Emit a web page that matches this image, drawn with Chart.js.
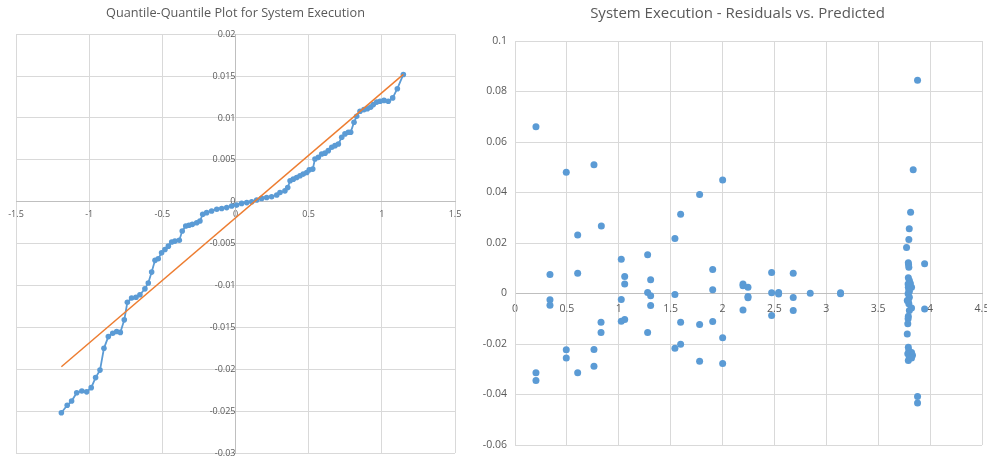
<!DOCTYPE html>
<html>
    <head>
        <meta charset="UTF-8">
        <title>System Execution</title>
        <script src="https://cdn.jsdelivr.net/npm/chart.js@4/dist/chart.umd.min.js"></script>
        <style>
            body { margin: 0; background: #fff; overflow: hidden; }
            #izq { position: absolute; left: 0; top: 0; }
            #der { position: absolute; left: 480px; top: 0; }
        </style>
    </head>
    <body>
        <canvas id="izq" width="470" height="459"></canvas>
        <canvas id="der" width="520" height="459"></canvas>

        <script type="text/javascript">
        // Q-Q plot: theoretical quantile vs observed residual
        var qqTeorico = [-1.19, -1.15, -1.12, -1.085, -1.05, -1.017, -0.986, -0.956, -0.926, -0.899,
            -0.869, -0.839, -0.812, -0.787, -0.76, -0.739, -0.71, -0.68, -0.653, -0.619,
            -0.596, -0.573, -0.55, -0.528, -0.505, -0.482, -0.459, -0.436, -0.414, -0.384,
            -0.364, -0.34, -0.318, -0.295, -0.265, -0.243, -0.224, -0.197, -0.163, -0.128,
            -0.094, -0.06, -0.026, 0.008, 0.042, 0.077, 0.111, 0.145, 0.179, 0.213,
            0.247, 0.282, 0.304, 0.338, 0.357, 0.373, 0.395, 0.418, 0.441, 0.463,
            0.487, 0.504, 0.528, 0.543, 0.566, 0.589, 0.612, 0.634, 0.658, 0.68,
            0.703, 0.726, 0.748, 0.771, 0.787, 0.81, 0.828, 0.851, 0.878, 0.901,
            0.924, 0.942, 0.965, 0.988, 1.015, 1.044, 1.074, 1.106, 1.147];
        var qqObservado = [-0.0252, -0.0243, -0.0238, -0.0228, -0.0226, -0.0227, -0.0222, -0.021, -0.0201, -0.0175,
            -0.0161, -0.0157, -0.0155, -0.0156, -0.0141, -0.012, -0.0115, -0.0114, -0.0111, -0.0104,
            -0.0097, -0.0084, -0.007, -0.0068, -0.0061, -0.0057, -0.0053, -0.0048, -0.0047, -0.0046,
            -0.0035, -0.0029, -0.0028, -0.0027, -0.0025, -0.0023, -0.0015, -0.0013, -0.0011, -0.0009,
            -0.0008, -0.0007, -0.0005, -0.0004, -0.0002, -0.0001, 0, 0.0002, 0.0004, 0.0005,
            0.0006, 0.0008, 0.0011, 0.0013, 0.0017, 0.0025, 0.0027, 0.0029, 0.0031, 0.0033,
            0.0035, 0.0038, 0.0039, 0.0051, 0.0053, 0.0057, 0.0058, 0.0061, 0.0065, 0.0067,
            0.0069, 0.0077, 0.0081, 0.0083, 0.0083, 0.0095, 0.0102, 0.0108, 0.011, 0.0111,
            0.0113, 0.0116, 0.0119, 0.012, 0.0121, 0.012, 0.0124, 0.0135, 0.0152];
        // fitted reference line (end points)
        var lineaX = [-1.19, 1.147];
        var lineaY = [-0.0197, 0.0152];

        // residuals vs predicted
        var predicho = [0.202, 0.202, 0.202, 0.337, 0.337, 0.337, 0.494, 0.494, 0.494, 0.604,
            0.604, 0.604, 0.761, 0.761, 0.761, 0.832, 0.829, 0.829, 1.024, 1.024,
            1.024, 1.057, 1.057, 1.057, 1.278, 1.278, 1.278, 1.307, 1.307, 1.307,
            1.541, 1.541, 1.541, 1.596, 1.596, 1.596, 1.779, 1.779, 1.779, 1.905,
            1.905, 1.905, 2.001, 2.001, 2.001, 2.197, 2.197, 2.197, 2.245, 2.245,
            2.245, 2.473, 2.473, 2.473, 2.54, 2.54, 2.681, 2.681, 2.681, 2.845,
            3.137, 3.137, 3.947, 3.947, 3.879, 3.837, 3.812, 3.879, 3.879,
            3.799, 3.795, 3.773, 3.79, 3.792, 3.795, 3.79, 3.8, 3.788, 3.821,
            3.79, 3.795, 3.788, 3.8, 3.78, 3.795, 3.821, 3.8, 3.79, 3.788,
            3.785, 3.78, 3.79, 3.795, 3.821, 3.785, 3.83, 3.8, 3.79, 3.821,
            3.8, 3.79, 3.81];
        var residuo = [0.066, -0.0314, -0.0345, 0.0075, -0.0025, -0.0047, 0.048, -0.0223, -0.0255, 0.0232,
            0.008, -0.0314, 0.051, -0.0222, -0.0288, 0.0267, -0.0114, -0.0154, 0.0136, -0.0024,
            -0.011, 0.0067, 0.0038, -0.0103, 0.0153, 0.0004, -0.0154, 0.0054, -0.0009, -0.0048,
            0.0218, -0.0004, -0.0217, 0.0314, -0.0114, -0.0201, 0.0392, -0.0123, -0.0268, 0.0095,
            0.0015, -0.0111, 0.045, -0.0175, -0.0277, 0.0038, 0.0031, -0.0065, 0.0025, -0.0012,
            -0.0017, 0.0083, 0.0003, -0.0087, 0.0004, -0.0002, 0.008, -0.0016, -0.0067, 0.0001,
            0.0003, -0.0001, 0.0118, -0.0061, 0.0845, 0.049, 0.0322, -0.0408, -0.0434,
            0.0256, 0.0214, 0.0182, 0.0122, 0.0115, 0.0104, 0.0062, 0.0051, 0.0038, 0.0025,
            0.0025, 0.0012, -0.0001, -0.0015, -0.0028, -0.0041, -0.0057, -0.0067, -0.009, -0.01,
            -0.012, -0.016, -0.0213, -0.0226, -0.0234, -0.0239, -0.0245, -0.0252, -0.0265, -0.0255,
            0.0008, -0.003, 0.004];

        var AZUL = '#5b9bd5';
        var NARANJA = '#ed7d31';
        var GRIS = '#595959';
        var REJILLA = '#d9d9d9';
        var FUENTE = 'Open Sans';

        function pares(xs, ys) {
            var out = [];
            for (var a = 0; a < xs.length; a++) {
                out.push({x: xs[a], y: ys[a]});
            }
            return out;
        }
        function etiqueta(v) {
            return String(Math.round(v * 10000) / 10000);
        }
        // the tick labels may spill past the plot edge, as in Excel
        function sinRelleno(s) {
            s.paddingLeft = 0;
            s.paddingRight = 0;
            s.paddingTop = 0;
            s.paddingBottom = 0;
        }

        new Chart(document.getElementById('izq').getContext('2d'), {
            type: 'scatter',
            data: {
                datasets: [
                    {
                        data: pares(qqTeorico, qqObservado),
                        showLine: true,
                        borderColor: AZUL,
                        backgroundColor: AZUL,
                        borderWidth: 1.8,
                        pointRadius: 2.8,
                        pointBorderWidth: 0,
                        order: 1
                    },
                    {
                        data: pares(lineaX, lineaY),
                        showLine: true,
                        borderColor: NARANJA,
                        borderWidth: 1.5,
                        pointRadius: 0,
                        order: 0
                    }
                ]
            },
            options: {
                responsive: false,
                animation: false,
                layout: { autoPadding: false, padding: { left: 16, right: 15, top: 0, bottom: 6 } },
                plugins: {
                    legend: { display: false },
                    tooltip: { enabled: false },
                    title: {
                        display: true,
                        text: 'Quantile-Quantile Plot for System Execution',
                        color: GRIS,
                        font: { family: FUENTE, size: 12.7, weight: 'normal' },
                        padding: { top: 6, bottom: 13 }
                    }
                },
                scales: {
                    x: {
                        type: 'linear',
                        min: -1.5,
                        max: 1.5,
                        position: { y: 0 },
                        afterFit: sinRelleno,
                        grid: { color: REJILLA, drawTicks: false },
                        border: { color: '#bfbfbf' },
                        ticks: { stepSize: 0.5, padding: 7, color: GRIS, font: { family: FUENTE, size: 9 }, callback: etiqueta, maxRotation: 0 }
                    },
                    y: {
                        min: -0.03,
                        max: 0.02,
                        position: { x: 0 },
                        afterFit: sinRelleno,
                        grid: { color: REJILLA, drawTicks: false },
                        border: { color: '#bfbfbf' },
                        ticks: { stepSize: 0.005, padding: 8, color: GRIS, font: { family: FUENTE, size: 9 }, callback: etiqueta }
                    }
                }
            }
        });

        new Chart(document.getElementById('der').getContext('2d'), {
            type: 'scatter',
            data: {
                datasets: [
                    {
                        data: pares(predicho, residuo),
                        borderColor: AZUL,
                        backgroundColor: AZUL,
                        pointRadius: 3.5,
                        pointBorderWidth: 0
                    }
                ]
            },
            options: {
                responsive: false,
                animation: false,
                layout: { autoPadding: false, padding: { left: 0, right: 5, top: 0, bottom: 14 } },
                plugins: {
                    legend: { display: false },
                    tooltip: { enabled: false },
                    title: {
                        display: true,
                        text: 'System Execution - Residuals vs. Predicted',
                        color: GRIS,
                        font: { family: FUENTE, size: 15, weight: 'normal' },
                        padding: { top: 5, bottom: 18 }
                    }
                },
                scales: {
                    x: {
                        type: 'linear',
                        min: 0,
                        max: 4.5,
                        position: { y: 0 },
                        afterFit: sinRelleno,
                        grid: { color: REJILLA, drawTicks: false },
                        border: { color: '#bfbfbf' },
                        ticks: { stepSize: 0.5, padding: 9, color: GRIS, font: { family: FUENTE, size: 10.5 }, callback: etiqueta, maxRotation: 0 }
                    },
                    y: {
                        min: -0.06,
                        max: 0.1,
                        position: 'left',
                        afterFit: function (s) { sinRelleno(s); s.width = 35; },
                        grid: { color: REJILLA, drawTicks: false },
                        border: { color: REJILLA },
                        ticks: { stepSize: 0.02, padding: 8, color: GRIS, font: { family: FUENTE, size: 10.5 }, callback: etiqueta }
                    },
                    // empty right margin so the title sits where Excel put it
                    margen: {
                        type: 'linear',
                        position: 'right',
                        afterFit: function (s) { sinRelleno(s); s.width = 13; },
                        grid: { display: false },
                        border: { display: false },
                        ticks: { display: false }
                    }
                }
            }
        });
        </script>
    </body>
</html>
